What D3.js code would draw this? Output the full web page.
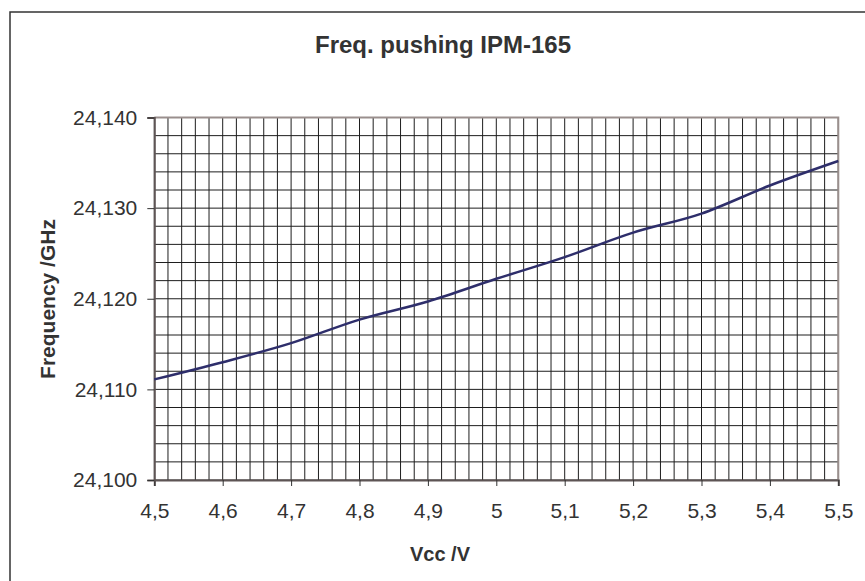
<html>
<head>
  <meta charset="utf-8"/>
  <title>Freq. pushing IPM-165</title>
  <style>
    body { margin: 0; background: #fff; }
    text { font-family: "Liberation Sans", Arial, sans-serif; fill: #333; }
  </style>
</head>
<body>
  <div id="chart"></div>
  <script src="https://d3js.org/d3.v7.min.js"></script>
  <script>

  var voltage = [4.5, 4.6, 4.7, 4.8, 4.9, 5.0, 5.1, 5.2, 5.3, 5.4, 5.5];
  var frequency = [24.1111, 24.1130, 24.1151, 24.1177, 24.1197, 24.1222, 24.1246, 24.1273, 24.1294, 24.1325, 24.1352];

  var xTicks = [4.5, 4.6, 4.7, 4.8, 4.9, 5.0, 5.1, 5.2, 5.3, 5.4, 5.5];
  var yTicks = [24.100, 24.110, 24.120, 24.130, 24.140];

  var W = 865, H = 581;
  // plot area edges
  var pL = 154.3, pR = 838.3, pT = 117.5, pB = 480;

  var loc = d3.formatLocale({decimal: ",", thousands: ".", grouping: [3], currency: ["", ""]});
  var fmtX = loc.format(".1~f");
  var fmtY = loc.format(".3f");

  var svg = d3.select("#chart").append("svg")
    .attr("width", W)
    .attr("height", H);

  var x = d3.scaleLinear().domain([4.5, 5.5]).range([pL, pR]);
  var y = d3.scaleLinear().domain([24.100, 24.140]).range([pB, pT]);

  // outer chart border
  svg.append("rect")
    .attr("x", 10).attr("y", 12)
    .attr("width", 900).attr("height", 600)
    .attr("fill", "none")
    .attr("stroke", "#333")
    .attr("stroke-width", 1.5);

  // minor grid
  var vGrid = d3.range(0, 51).map(function(i){ return 4.5 + i * 0.02; });
  var hGrid = d3.range(0, 21).map(function(i){ return 24.100 + i * 0.002; });

  svg.append("g").selectAll("line").data(vGrid).enter().append("line")
    .attr("x1", function(d){ return x(d); })
    .attr("x2", function(d){ return x(d); })
    .attr("y1", pT).attr("y2", pB)
    .attr("stroke", "#1e1e1e")
    .attr("stroke-width", 1);

  svg.append("g").selectAll("line").data(hGrid).enter().append("line")
    .attr("x1", pL).attr("x2", pR)
    .attr("y1", function(d){ return y(d); })
    .attr("y2", function(d){ return y(d); })
    .attr("stroke", "#1e1e1e")
    .attr("stroke-width", 1);

  // plot border top/right
  svg.append("path")
    .attr("d", "M" + pL + "," + pT + "H" + pR + "V" + pB)
    .attr("fill", "none")
    .attr("stroke", "#9a8f8d")
    .attr("stroke-width", 2);

  // axes
  var xAxis = svg.append("g")
    .attr("transform", "translate(0," + pB + ")")
    .call(d3.axisBottom(x).tickValues(xTicks).tickSize(6).tickPadding(17).tickFormat(fmtX));
  var yAxis = svg.append("g")
    .attr("transform", "translate(" + pL + ",0)")
    .call(d3.axisLeft(y).tickValues(yTicks).tickSize(7).tickPadding(10).tickFormat(fmtY));

  [xAxis, yAxis].forEach(function(a){
    a.select(".domain").attr("stroke", "#5e5555").attr("stroke-width", 2);
    a.selectAll(".tick line").attr("stroke", "#333");
    a.selectAll(".tick text").attr("font-size", 21).attr("fill", "#333");
  });

  // data line
  var line = d3.line()
    .x(function(d, i){ return x(voltage[i]); })
    .y(function(d){ return y(d); })
    .curve(d3.curveCardinal.tension(0));

  svg.append("path")
    .datum(frequency)
    .attr("d", line)
    .attr("fill", "none")
    .attr("stroke", "#2e2e6b")
    .attr("stroke-width", 2.5);

  // titles
  svg.append("text")
    .attr("x", 443).attr("y", 53)
    .attr("text-anchor", "middle")
    .attr("font-size", 24)
    .attr("font-weight", "bold")
    .text("Freq. pushing IPM-165");

  svg.append("text")
    .attr("x", 440).attr("y", 561)
    .attr("text-anchor", "middle")
    .attr("font-size", 20)
    .attr("font-weight", "bold")
    .text("Vcc /V");

  svg.append("text")
    .attr("transform", "translate(55,299) rotate(-90)")
    .attr("text-anchor", "middle")
    .attr("font-size", 21)
    .attr("font-weight", "bold")
    .text("Frequency /GHz");

  </script>
</body>
</html>
